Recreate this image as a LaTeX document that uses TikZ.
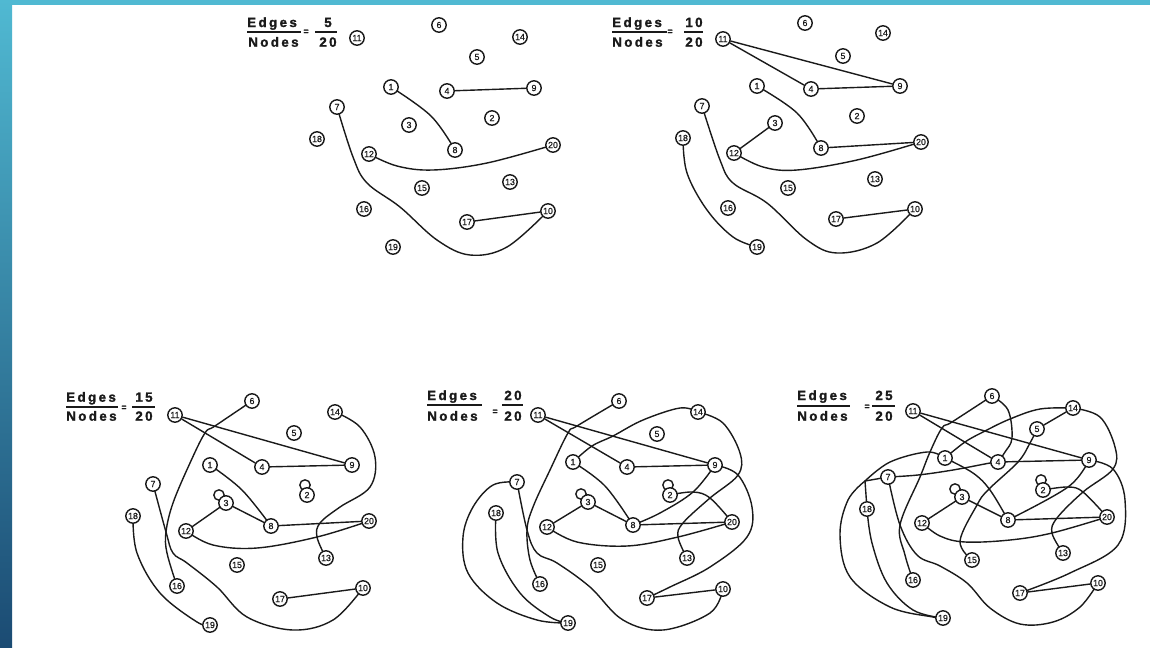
\documentclass[tikz,border=0pt]{standalone}
\usepackage{fontspec}
\setmainfont{Liberation Sans}
\newfontfamily\tfont[LetterSpace=18, FakeBold=1.6]{Liberation Sans Bold}
\newfontfamily\vfont[FakeBold=0.6]{Liberation Sans}
\pgfdeclarelayer{back}
\pgfdeclarelayer{bg}
\pgfsetlayers{back,bg,main}
\definecolor{ink}{HTML}{1A1A1A}
\definecolor{barTop}{HTML}{50B9D2}
\definecolor{barMid}{HTML}{3590B4}
\definecolor{barBot}{HTML}{1B4B73}
\tikzset{
  vx/.style={circle, draw=ink, line width=1.05pt, fill=white, inner sep=0pt,
    minimum size=10.8pt, text=ink, font=\vfont\fontsize{6.6}{6.6}\selectfont},
  ed/.style={draw=ink, line width=1.05pt, line join=round, line cap=round},
  ttl/.style={font=\tfont\fontsize{10}{10}\selectfont, inner sep=0pt, text=ink},
  eqs/.style={font=\tfont\fontsize{6.5}{6.5}\selectfont, inner sep=0pt, text=ink},
  fbar/.style={draw=ink, line width=0.9pt},
}
\newcommand\gn[3]{\node[vx] (#1) at (#2) {#3};}
\newcommand\loopat[2]{\draw[ed] ([shift={(#2)}]#1.center) circle[radius=3.9pt];}
\begin{document}
\begin{tikzpicture}[x=0.75pt,y=-0.75pt]
\useasboundingbox (0,0) rectangle (1150,647);
\begin{pgfonlayer}{back}
\fill[white] (0,0) rectangle (1150,647);
\fill[barTop] (0,0) rectangle (1150,5);
\shade[top color=barTop, middle color=barMid, bottom color=barBot] (0,0) rectangle (12,647);
\end{pgfonlayer}

% ---------------- titles ----------------
% panel A
\node[ttl, anchor=base west] (aE) at (247,27) {Edges};
\node[ttl, anchor=base west] (aN) at (248,46.7) {Nodes};
\draw[fbar] (247,32) -- (301,32);
\node[eqs] (aQ) at (306,32) {=};
\node[ttl, anchor=base] (aT) at (328,27) {5};
\draw[fbar] (315,32) -- (337,32);
\node[ttl, anchor=base] (aB) at (328,46.7) {20};
% panel B
\node[ttl, anchor=base west] (bE) at (612,27) {Edges};
\node[ttl, anchor=base west] (bN) at (612,46.7) {Nodes};
\draw[fbar] (612,32) -- (667,32);
\node[eqs] (bQ) at (670,32) {=};
\node[ttl, anchor=base] (bT) at (694,27) {10};
\draw[fbar] (684,32) -- (703,32);
\node[ttl, anchor=base] (bB) at (694,46.7) {20};
% panel C
\node[ttl, anchor=base west] (cE) at (66,401.7) {Edges};
\node[ttl, anchor=base west] (cN) at (66,420.7) {Nodes};
\draw[fbar] (66,407) -- (118,407);
\node[eqs] (cQ) at (124,408) {=};
\node[ttl, anchor=base] (cT) at (144,401.7) {15};
\draw[fbar] (132,407) -- (155,407);
\node[ttl, anchor=base] (cB) at (144,420.7) {20};
% panel D
\node[ttl, anchor=base west] (dE) at (427,400) {Edges};
\node[ttl, anchor=base west] (dN) at (427,420.7) {Nodes};
\draw[fbar] (427,405) -- (482,405);
\node[eqs] (dQ) at (495,412) {=};
\node[ttl, anchor=base] (dT) at (513,400) {20};
\draw[fbar] (502,405) -- (523,405);
\node[ttl, anchor=base] (dB) at (513,420.7) {20};
% panel E
\node[ttl, anchor=base west] (eE) at (797,400) {Edges};
\node[ttl, anchor=base west] (eN) at (797,420.7) {Nodes};
\draw[fbar] (797,406) -- (850,406);
\node[eqs] (eQ) at (867,407) {=};
\node[ttl, anchor=base] (eT) at (884,400) {25};
\draw[fbar] (872,406) -- (895,406);
\node[ttl, anchor=base] (eB) at (884,420.7) {20};

% ---------------- panel A nodes ----------------
\gn{a11}{357,38}{11} \gn{a6}{439,25}{6} \gn{a14}{520,37}{14} \gn{a5}{477,57}{5}
\gn{a1}{391,87}{1} \gn{a4}{447,91}{4} \gn{a9}{534,88}{9} \gn{a7}{337,107}{7}
\gn{a3}{409,125}{3} \gn{a2}{492,118}{2} \gn{a18}{317,139}{18} \gn{a12}{369,154}{12}
\gn{a8}{455,150}{8} \gn{a20}{553,145}{20} \gn{a15}{422,188}{15} \gn{a13}{510,182}{13}
\gn{a16}{364,209}{16} \gn{a17}{467,222}{17} \gn{a10}{548,211}{10} \gn{a19}{393,247}{19}

% ---------------- panel B nodes ----------------
\gn{b6}{805,23}{6} \gn{b11}{723,39}{11} \gn{b14}{883,33}{14} \gn{b5}{843,56}{5}
\gn{b1}{757,86}{1} \gn{b4}{811,89}{4} \gn{b9}{900,86}{9} \gn{b7}{702,106}{7}
\gn{b2}{857,116}{2} \gn{b3}{775,123}{3} \gn{b18}{683,138}{18} \gn{b12}{734,153}{12}
\gn{b8}{821,148}{8} \gn{b20}{921,142}{20} \gn{b13}{875,179}{13} \gn{b15}{788,188}{15}
\gn{b16}{728,208}{16} \gn{b17}{836,219}{17} \gn{b10}{915,209}{10} \gn{b19}{757,247}{19}

% ---------------- panel C nodes ----------------
\gn{c6}{252,401}{6} \gn{c11}{175,415}{11} \gn{c14}{335,412}{14} \gn{c5}{294,433}{5}
\gn{c1}{210,465}{1} \gn{c4}{262,467}{4} \gn{c9}{352,465}{9} \gn{c7}{153,484}{7}
\gn{c2}{307,495}{2} \gn{c3}{226,503}{3} \gn{c18}{133,516}{18} \gn{c12}{186,531}{12}
\gn{c8}{271,526}{8} \gn{c20}{369,521}{20} \gn{c13}{326,558}{13} \gn{c15}{237,565}{15}
\gn{c16}{177,586}{16} \gn{c17}{280,599}{17} \gn{c10}{363,588}{10} \gn{c19}{210,625}{19}

% ---------------- panel D nodes ----------------
\gn{d6}{619,401}{6} \gn{d11}{538,415}{11} \gn{d14}{698,412}{14} \gn{d5}{657,434}{5}
\gn{d1}{573,462}{1} \gn{d4}{627,467}{4} \gn{d9}{715,465}{9} \gn{d7}{517,482}{7}
\gn{d2}{670,495}{2} \gn{d3}{588,502}{3} \gn{d18}{496,513}{18} \gn{d12}{547,527}{12}
\gn{d8}{633,525}{8} \gn{d20}{732,522}{20} \gn{d13}{687,558}{13} \gn{d15}{598,565}{15}
\gn{d16}{540,584}{16} \gn{d17}{647,598}{17} \gn{d10}{723,589}{10} \gn{d19}{568,623}{19}

% ---------------- panel E nodes ----------------
\gn{e6}{992,396}{6} \gn{e11}{913,411}{11} \gn{e14}{1073,408}{14} \gn{e5}{1037,429}{5}
\gn{e1}{945,458}{1} \gn{e4}{998,462}{4} \gn{e9}{1089,460}{9} \gn{e7}{888,477}{7}
\gn{e2}{1043,490}{2} \gn{e3}{962,497}{3} \gn{e18}{867,509}{18} \gn{e12}{922,523}{12}
\gn{e8}{1008,520}{8} \gn{e20}{1107,517}{20} \gn{e13}{1063,553}{13} \gn{e15}{972,560}{15}
\gn{e16}{913,580}{16} \gn{e17}{1020,593}{17} \gn{e10}{1098,583}{10} \gn{e19}{943,618}{19}
\coordinate (eJ) at (865,481);

\begin{pgfonlayer}{bg}
% ---------------- panel A edges ----------------
\draw[ed] (a4) -- (a9);
\draw[ed] (a17) -- (a10);
\draw[ed] plot[smooth,tension=0.6] coordinates {(a1.center) (431,116) (a8.center)};
\draw[ed] plot[smooth,tension=0.6] coordinates {(a12.center) (397,166) (433,170) (487,163) (a20.center)};
\draw[ed] plot[smooth,tension=0.6] coordinates {(a7.center) (353,157) (367,183) (400,207) (437,240) (470,255) (507,247) (a10.center)};

% ---------------- panel B edges ----------------
\draw[ed] (b11) -- (b9);
\draw[ed] (b11) -- (b4);
\draw[ed] (b4) -- (b9);
\draw[ed] (b3) -- (b12);
\draw[ed] (b8) -- (b20);
\draw[ed] (b17) -- (b10);
\draw[ed] plot[smooth,tension=0.6] coordinates {(b1.center) (797,113) (b8.center)};
\draw[ed] plot[smooth,tension=0.6] coordinates {(b12.center) (763,167) (797,170) (857,160) (b20.center)};
\draw[ed] plot[smooth,tension=0.6] coordinates {(b7.center) (720,160) (733,183) (767,203) (807,240) (837,253) (877,243) (b10.center)};
\draw[ed] plot[smooth,tension=0.6] coordinates {(b18.center) (687,173) (707,210) (733,237) (b19.center)};

% ---------------- panel C edges ----------------
\draw[ed] (c11) -- (c9);
\draw[ed] (c11) -- (c4);
\draw[ed] (c4) -- (c9);
\draw[ed] (c3) -- (c12);
\draw[ed] (c3) -- (c8);
\draw[ed] (c8) -- (c20);
\draw[ed] (c17) -- (c10);
\draw[ed] plot[smooth,tension=0.6] coordinates {(c1.center) (242,490) (c8.center)};
\draw[ed] plot[smooth,tension=0.6] coordinates {(c12.center) (213,545) (257,548) (317,537) (c20.center)};
\draw[ed] plot[smooth,tension=0.6] coordinates {(c7.center) (166,532) (173,553) (187,563) (217,587) (247,617) (293,630) (333,620) (c10.center)};
\draw[ed] plot[smooth,tension=0.6] coordinates {(c6.center) (215,426) (205,433) (190,463) (173,503) (166,532) (167,553) (c16.center)};
\draw[ed] plot[smooth,tension=0.6] coordinates {(c14.center) (360,427) (375,457) (370,487) (340,507) (320,523) (317,537) (c13.center)};
\draw[ed] plot[smooth,tension=0.6] coordinates {(c18.center) (137,553) (160,593) (197,622) (c19.center)};
\loopat{c3}{-7,-8}
\loopat{c2}{-2,-10}

% ---------------- panel D edges ----------------
\draw[ed] (d11) -- (d9);
\draw[ed] (d11) -- (d4);
\draw[ed] (d4) -- (d9);
\draw[ed] (d3) -- (d12);
\draw[ed] (d3) -- (d8);
\draw[ed] (d8) -- (d20);
\draw[ed] (d17) -- (d10);
\draw[ed] plot[smooth,tension=0.6] coordinates {(d1.center) (605,486) (d8.center)};
\draw[ed] plot[smooth,tension=0.6] coordinates {(d12.center) (577,542) (627,546) (678,537) (d20.center)};
\draw[ed] plot[smooth,tension=0.6] coordinates {(d7.center) (527,530) (537,553) (557,563) (590,587) (623,620) (663,630) (710,613) (d10.center)};
\draw[ed] plot[smooth,tension=0.6] coordinates {(d6.center) (577,426) (568,433) (550,470) (533,507) (527,530) (530,560) (d16.center)};
\draw[ed] plot[smooth,tension=0.6] coordinates {(d7.center) (493,485) (473,507) (463,537) (468,573) (497,603) (537,620) (d19.center)};
\draw[ed] plot[smooth,tension=0.6] coordinates {(d18.center) (498,553) (520,593) (550,617) (d19.center)};
\draw[ed] plot[smooth,tension=0.6] coordinates {(d1.center) (592,446) (613,436) (643,420) (680,408) (d14.center)};
\draw[ed] plot[smooth,tension=0.6] coordinates {(d14.center) (723,423) (740,453) (738,475) (710,498) (683,523) (678,537) (d13.center)};
\draw[ed] plot[smooth,tension=0.6] coordinates {(d9.center) (738,475) (752,507) (747,537) (710,567) (670,587) (d17.center)};
\draw[ed] plot[smooth,tension=0.6] coordinates {(d9.center) (693,492) (660,513) (d8.center)};
\draw[ed] plot[smooth,tension=0.6] coordinates {(d2.center) (693,492) (710,498) (d20.center)};
\loopat{d3}{-7,-8}
\loopat{d2}{-2,-10}

% ---------------- panel E edges ----------------
\draw[ed] (e11) -- (e9);
\draw[ed] (e11) -- (e4);
\draw[ed] (e4) -- (e9);
\draw[ed] (e3) -- (e12);
\draw[ed] (e3) -- (e8);
\draw[ed] (e8) -- (e20);
\draw[ed] (e17) -- (e10);
\draw[ed] (e5) -- (e14);
\draw[ed] (e7) -- (eJ);
\draw[ed] (eJ) -- (e18);
\draw[ed] plot[smooth,tension=0.6] coordinates {(e1.center) (973,473) (990,490) (e8.center)};
\draw[ed] plot[smooth,tension=0.6] coordinates {(e12.center) (940,536) (965,542) (1010,540) (1052,533) (e20.center)};
\draw[ed] plot[smooth,tension=0.6] coordinates {(e7.center) (900,525) (917,555) (940,566) (967,583) (990,608) (1020,624) (1053,622) (1080,607) (e10.center)};
\draw[ed] plot[smooth,tension=0.6] coordinates {(e6.center) (952,422) (942,428) (930,452) (920,477) (900,525) (905,555) (e16.center)};
\draw[ed] plot[smooth,tension=0.6] coordinates {(e6.center) (1008,410) (1012,438) (1005,452) (e4.center)};
\draw[ed] plot[smooth,tension=0.6] coordinates {(e7.center) (918,475) (953,470) (990,463) (e4.center)};
\draw[ed] plot[smooth,tension=0.6] coordinates {(eJ) (890,462) (927,452) (e1.center)};
\draw[ed] plot[smooth,tension=0.6] coordinates {(eJ) (848,500) (840,535) (850,577) (890,607) (933,617) (e19.center)};
\draw[ed] plot[smooth,tension=0.6] coordinates {(e18.center) (872,543) (887,583) (913,610) (e19.center)};
\draw[ed] plot[smooth,tension=0.6] coordinates {(e1.center) (965,442) (985,431) (1010,419) (1040,409) (e14.center)};
\draw[ed] plot[smooth,tension=0.6] coordinates {(e5.center) (1030,443) (1018,462) (988,490) (977,505) (960,541) (e15.center)};
\draw[ed] plot[smooth,tension=0.6] coordinates {(e14.center) (1100,417) (1115,447) (1113,469) (1083,492) (1057,518) (1052,533) (e13.center)};
\draw[ed] plot[smooth,tension=0.6] coordinates {(e9.center) (1113,469) (1125,500) (1118,545) (1070,573) (e17.center)};
\draw[ed] plot[smooth,tension=0.6] coordinates {(e9.center) (1068,487) (e8.center)};
\draw[ed] plot[smooth,tension=0.6] coordinates {(e2.center) (1068,487) (1083,492) (e20.center)};
\loopat{e3}{-7,-8}
\loopat{e2}{-2,-10}
\end{pgfonlayer}
\end{tikzpicture}
\end{document}
